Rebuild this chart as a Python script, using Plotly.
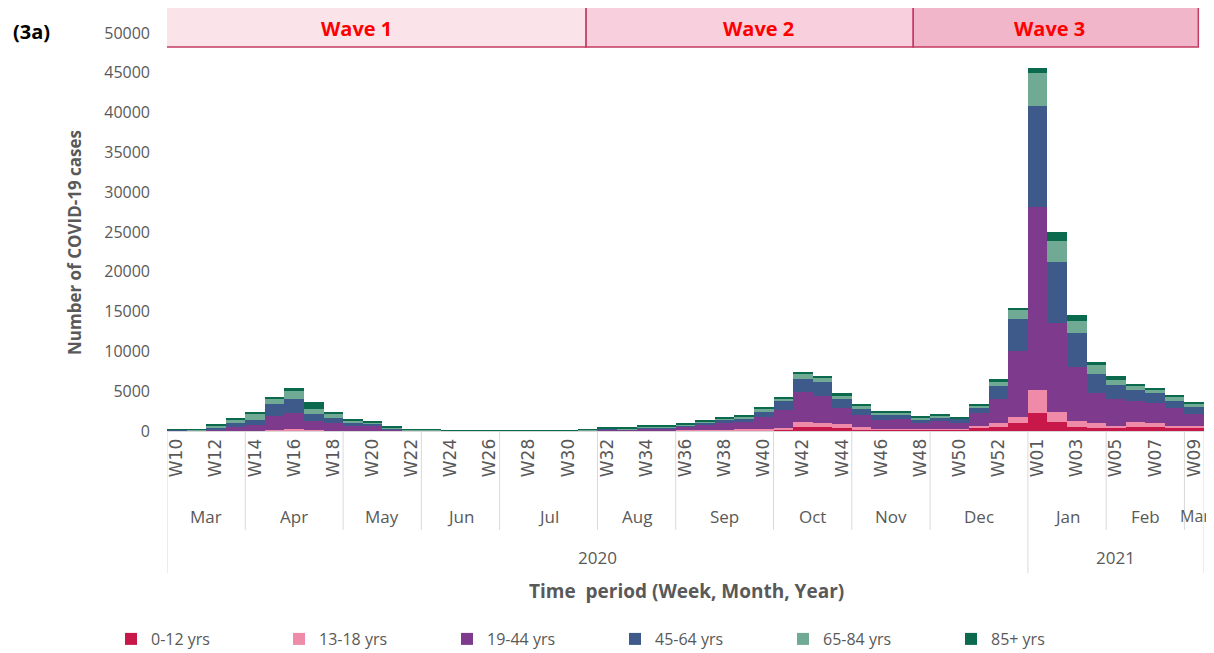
import plotly.graph_objects as go

weeks = ["W10","W11","W12","W13","W14","W15","W16","W17","W18","W19","W20","W21","W22",
         "W23","W24","W25","W26","W27","W28","W29","W30","W31","W32","W33","W34","W35",
         "W36","W37","W38","W39","W40","W41","W42","W43","W44","W45","W46","W47","W48",
         "W49","W50","W51","W52","W53","W01","W02","W03","W04","W05","W06","W07","W08","W09"]

age_0_12 = [0,0,0,0,10,20,40,30,20,10,10,10,0,0,0,0,0,0,0,0,0,5,10,10,20,20,40,50,60,80,90,
            130,500,500,420,250,160,160,160,160,160,380,545,970,2230,1180,550,420,340,550,550,420,340]
age_13_18 = [0,0,20,20,30,60,150,60,40,30,20,10,10,10,0,0,0,0,0,0,5,10,20,20,30,40,50,110,80,130,170,
             290,630,550,500,210,100,100,100,100,100,210,420,840,2950,1260,760,550,340,630,420,210,340]
age_19_44 = [60,60,210,530,720,1820,2110,1140,960,600,560,200,60,60,20,20,20,20,25,25,30,70,170,140,290,260,
             420,650,820,920,1550,2220,3730,3360,2010,1550,1090,1250,780,960,790,1720,3030,8220,22950,
             11160,6740,3790,3320,2650,2610,2320,1470]
age_45_64 = [70,50,210,500,670,1550,1760,920,670,420,290,110,40,30,20,20,15,15,15,20,20,30,80,60,130,130,
             170,250,500,500,580,1100,1640,1760,1090,800,710,590,420,420,500,630,1600,4090,12760,7580,
             4210,2400,1810,1350,1180,880,840]
age_65_84 = [20,70,210,420,750,670,1010,670,500,210,210,50,40,30,50,40,40,40,35,40,40,30,50,40,80,90,
             160,160,140,250,380,290,670,590,500,380,210,170,210,250,80,290,670,1140,4090,2740,1560,1100,
             630,420,420,420,340]
age_85p = [10,30,170,210,170,210,380,880,170,210,210,170,80,80,20,20,15,15,15,15,15,70,120,120,130,130,
           130,130,170,170,170,210,210,170,210,170,170,170,130,170,130,170,210,250,630,1140,720,420,500,
           290,210,290,290]

series_names = ["0-12 yrs", "13-18 yrs", "19-44 yrs", "45-64 yrs", "65-84 yrs", "85+ yrs"]
series_values = [age_0_12, age_13_18, age_19_44, age_45_64, age_65_84, age_85p]
series_colors = ["#C8184A", "#EF8BA9", "#7E3B8D", "#3D5A8B", "#70A994", "#0B6A4E"]

month_names = ["Mar","Apr","May","Jun","Jul","Aug","Sep","Oct","Nov","Dec","Jan","Feb","Mar"]
month_weeks = [4,5,4,4,5,4,5,4,4,5,4,4,1]
year_names = ["2020","2021"]
year_weeks = [44,9]

wave_names = ["Wave 1", "Wave 2", "Wave 3"]
wave_bounds = [-0.76, 20.92, 37.64, 52.21]
wave_text_x = [9.2, 29.75, 44.6]
wave_fills = ["#FBE3EA", "#F8CFDC", "#F1B6CA"]

y_ticks = list(range(0, 50001, 5000))

GRAY = "#595959"
FONT = "Open Sans"
# the page body has an 8px margin; figure is sized so it ends at the window edge
OFF = 8
PLOT_LEFT, PLOT_RIGHT = 167, 1204
PLOT_TOP, PLOT_BOTTOM = 33, 431
PW = PLOT_RIGHT - PLOT_LEFT
PH = PLOT_BOTTOM - PLOT_TOP


def py(pix):
    return (PLOT_BOTTOM - pix) / PH


def px(pix):
    return (pix - PLOT_LEFT) / PW


fig = go.Figure()
for name, vals, col in zip(series_names, series_values, series_colors):
    fig.add_trace(go.Bar(x=weeks, y=vals, name=name, marker=dict(color=col, line=dict(width=0))))

fig.update_layout(
    barmode="stack", bargap=0,
    width=1214 - OFF, height=653 - OFF,
    margin=dict(l=PLOT_LEFT - OFF, r=1214 - PLOT_RIGHT, t=PLOT_TOP - OFF, b=653 - PLOT_BOTTOM,
                autoexpand=False),
    plot_bgcolor="white", paper_bgcolor="white",
    font=dict(family=FONT, color=GRAY),
    showlegend=True,
    legend=dict(orientation="h", x=px(111), xanchor="left", y=py(622), yanchor="top",
                font=dict(size=16, color=GRAY), entrywidth=123, entrywidthmode="pixels",
                traceorder="normal"),
)

fig.update_yaxes(range=[0, 50000], tickvals=y_ticks, ticktext=[str(v) for v in y_ticks],
                 showgrid=False, automargin=False,
                 zeroline=False, showline=False, tickfont=dict(size=16, color=GRAY),
                 ticklabelstandoff=16)
fig.update_xaxes(type="category", range=[-0.5, 52.5], tickvals=weeks[::2], ticktext=weeks[::2],
                 tickangle=-90, tickfont=dict(size=17, color=GRAY, family="DejaVu Sans"),
                 automargin=False,
                 showline=True, linecolor="#D9D9D9", linewidth=1, showgrid=False, ticks="")

# wave boxes
for i, nm in enumerate(wave_names):
    fig.add_shape(type="rect", xref="x", yref="paper", x0=wave_bounds[i], x1=wave_bounds[i+1],
                  y0=py(47), y1=py(6), fillcolor=wave_fills[i], line=dict(color="#C23B62", width=1.5),
                  layer="above")
    fig.add_annotation(x=wave_text_x[i], y=py(28), xref="x", yref="paper", text="<b>%s</b>" % nm,
                       showarrow=False, yanchor="middle", xanchor="center",
                       font=dict(size=20, color="#FF0000", family=FONT))

# month labels & dividers
y_month_bottom = py(530)
y_year_bottom = py(573)
start = 0
for k, (nm, n) in enumerate(zip(month_names, month_weeks)):
    center = start + (n - 1) / 2
    if k == len(month_names) - 1:
        fig.add_annotation(x=px(1212), y=py(516), xref="paper", yref="paper", text=nm,
                           xanchor="right", yanchor="middle", showarrow=False,
                           font=dict(size=16, color=GRAY))
    else:
        fig.add_annotation(x=center, y=py(516), xref="x", yref="paper", text=nm,
                           xanchor="center", yanchor="middle", showarrow=False,
                           font=dict(size=17, color=GRAY))
    start += n
bounds = []
s = 0
for n in month_weeks[:-1]:
    s += n
    bounds.append(s - 0.5)
year_bounds = []
s = 0
for n in year_weeks:
    s += n
    year_bounds.append(s - 0.5)
for b in bounds:
    if b in year_bounds:
        continue
    fig.add_shape(type="line", xref="x", yref="paper", x0=b, x1=b, y0=0, y1=y_month_bottom,
                  line=dict(color="#D9D9D9", width=1))
for b in [-0.5] + year_bounds:
    fig.add_shape(type="line", xref="x", yref="paper", x0=b, x1=b, y0=0, y1=y_year_bottom,
                  line=dict(color="#D9D9D9", width=1))

start = 0
for nm, n in zip(year_names, year_weeks):
    center = start + (n - 1) / 2
    fig.add_annotation(x=center, y=py(557), xref="x", yref="paper", text=nm,
                       xanchor="center", yanchor="middle", showarrow=False,
                       font=dict(size=17, color=GRAY))
    start += n

fig.add_annotation(x=px(686), y=py(591), xref="paper", yref="paper",
                   text="<b>Time  period (Week, Month, Year)</b>", showarrow=False,
                   xanchor="center", yanchor="middle", font=dict(size=19, color=GRAY))
fig.add_annotation(x=px(75), y=py(243), xref="paper", yref="paper",
                   text="<b>Number of COVID-19 cases</b>", textangle=-90, showarrow=False,
                   xanchor="center", yanchor="middle", font=dict(size=17, color=GRAY))
fig.add_annotation(x=px(31), y=py(31), xref="paper", yref="paper",
                   text="<b>(3a)</b>", showarrow=False, xanchor="center", yanchor="middle",
                   font=dict(size=20, color="black"))

fig.write_html("out.html")
